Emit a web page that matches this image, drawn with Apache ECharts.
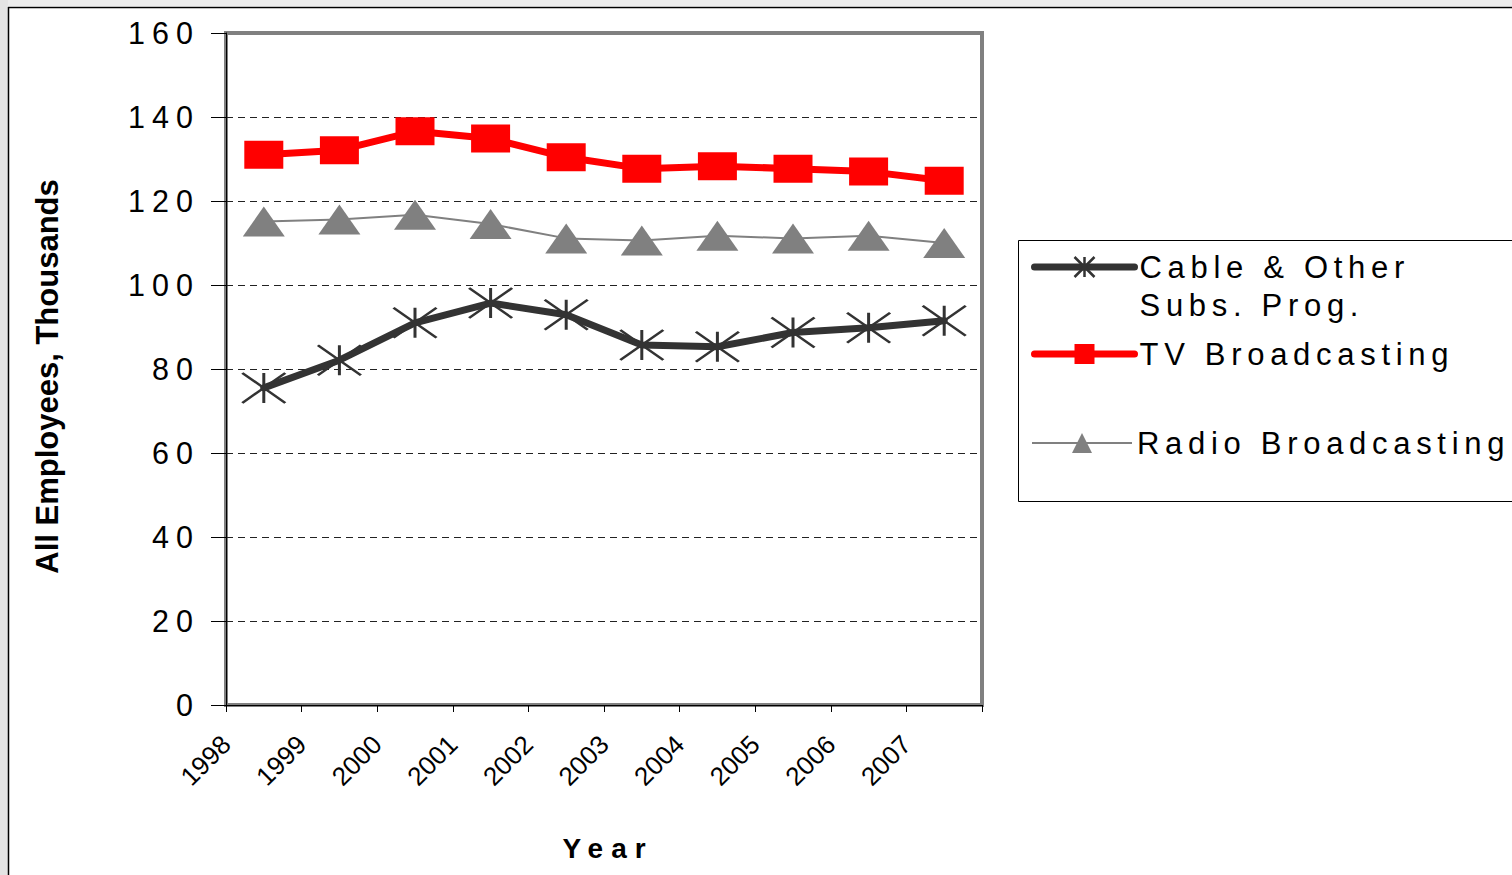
<!DOCTYPE html>
<html>
<head>
<meta charset="utf-8">
<script src="https://cdn.jsdelivr.net/npm/echarts@6/dist/echarts.min.js"></script>
<style>
html,body{margin:0;padding:0;background:#fff;}
#chart{width:1512px;height:875px;}
#chart text[style*="30.5px"]{letter-spacing:7px;}
#chart text[style*="31px"]{letter-spacing:5.7px;}
#chart text[style*="bold 31px"]{letter-spacing:0px;}
#chart text[style*="bold 28px"]{letter-spacing:8px;}
</style>
</head>
<body>
<div id="chart"></div>
<script>
// ---- data ----
const years = ['1998', '1999', '2000', '2001', '2002', '2003', '2004', '2005', '2006', '2007'];
const tickLabels = ['1998', '1999', '2000', '2001', '2002', '2003', '2004', '2005', '2006', '2007', ''];
const seriesNames = ['Cable & Other Subs. Prog.', 'TV Broadcasting', 'Radio Broadcasting'];
const legendLabels = ['\nCable & Other\nSubs. Prog.', 'TV Broadcasting', 'Radio Broadcasting'];
const cable = [75.5, 82.1, 91.0, 95.7, 92.9, 85.7, 85.3, 88.7, 89.8, 91.5];
const tv = [131.0, 132.1, 136.6, 134.9, 130.4, 127.7, 128.3, 127.7, 127.0, 124.8];
const radio = [115.1, 115.6, 116.7, 114.5, 111.1, 110.6, 111.7, 111.1, 111.7, 110.0];
const yMin = 0, yMax = 160, yStep = 20;
const xTitle = 'Year';
const yTitle = 'All Employees, Thousands';

const FONT = 'Liberation Sans';
const starPath = 'path://M21,0L21,30M0,0L42,30M0,30L42,0';

const chart = echarts.init(document.getElementById('chart'), null, {renderer: 'svg', width: 1512, height: 875});

function legendFor(i, top) {
  return {
    data: [seriesNames[i]],
    left: 1031, top: top, orient: 'vertical', padding: 0,
    itemWidth: 100, itemHeight: 25,
    selectedMode: false,
    formatter: function (name) { return legendLabels[seriesNames.indexOf(name)]; },
    textStyle: {fontSize: 31, fontFamily: FONT, color: '#000', lineHeight: 38},
    lineStyle: {width: 'inherit'},
    itemStyle: {borderWidth: 'inherit'}
  };
}

const option = {
  backgroundColor: '#ffffff',
  animation: false,
  textStyle: {fontFamily: FONT},
  grid: {left: 226, top: 33, width: 756, height: 672, show: true, borderColor: '#808080', borderWidth: 4, backgroundColor: 'transparent'},
  xAxis: [
    {
      type: 'category', data: years, boundaryGap: true,
      axisLine: {show: true, lineStyle: {color: '#000', width: 1}},
      axisTick: {show: true, length: 7, interval: 0, lineStyle: {color: '#000', width: 1}},
      axisLabel: {show: false}, splitLine: {show: false}
    },
    {
      type: 'category', data: tickLabels, boundaryGap: false, position: 'bottom',
      axisLine: {show: false}, axisTick: {show: false}, splitLine: {show: false},
      axisLabel: {show: true, interval: 0, rotate: 45, margin: 35, fontSize: 26, fontFamily: FONT, color: '#000'}
    }
  ],
  yAxis: {
    type: 'value', min: yMin, max: yMax, interval: yStep,
    axisLine: {show: true, lineStyle: {color: '#000', width: 1}},
    axisTick: {show: true, length: 15, lineStyle: {color: '#000', width: 1}},
    axisLabel: {margin: 26, fontSize: 30.5, fontFamily: FONT, color: '#000'},
    splitLine: {show: true, showMinLine: false, showMaxLine: false, lineStyle: {type: [7, 5], color: '#222', width: 1}}
  },
  legend: [
    legendFor(0, 210),
    legendFor(1, 335),
    legendFor(2, 424)
  ],
  series: [
    {
      name: seriesNames[0], type: 'line', data: cable, xAxisIndex: 0,
      symbol: starPath, symbolSize: [43, 30],
      lineStyle: {color: '#333333', width: 7, cap: 'round', join: 'round'},
      itemStyle: {color: '#333333', borderColor: '#333333', borderWidth: 2.5},
      z: 4
    },
    {
      name: seriesNames[1], type: 'line', data: tv, xAxisIndex: 0,
      symbol: 'rect', symbolSize: [39, 28],
      lineStyle: {color: '#ff0000', width: 7, cap: 'round', join: 'round'},
      itemStyle: {color: '#ff0000', borderWidth: 0},
      z: 3
    },
    {
      name: seriesNames[2], type: 'line', data: radio, xAxisIndex: 0,
      symbol: 'triangle', symbolSize: [42, 30],
      lineStyle: {color: '#808080', width: 2},
      itemStyle: {color: '#808080', borderWidth: 0},
      z: 2
    }
  ],
  graphic: [
    {type: 'rect', silent: true, shape: {x: 0, y: 0, width: 1512, height: 6}, style: {fill: '#ececec'}},
    {type: 'rect', silent: true, shape: {x: 0, y: 0, width: 8, height: 875}, style: {fill: '#e4e4e4'}},
    {type: 'line', silent: true, shape: {x1: 8.5, y1: 7, x2: 8.5, y2: 875}, style: {stroke: '#000', lineWidth: 1.5}},
    {type: 'line', silent: true, shape: {x1: 8, y1: 7.5, x2: 1512, y2: 7.5}, style: {stroke: '#000', lineWidth: 1.5}},
    {type: 'rect', silent: true, shape: {x: 1018.5, y: 240.5, width: 600, height: 261}, style: {fill: 'none', stroke: '#000', lineWidth: 1}},
    {type: 'text', silent: true, x: 608, y: 848, style: {text: xTitle, font: 'bold 28px "Liberation Sans"', fill: '#000', align: 'center', verticalAlign: 'middle'}},
    {type: 'text', silent: true, x: 47, y: 376.5, rotation: Math.PI / 2, style: {text: yTitle, font: 'bold 31px "Liberation Sans"', fill: '#000', align: 'center', verticalAlign: 'middle'}}
  ]
};
chart.setOption(option);
</script>
</body>
</html>
